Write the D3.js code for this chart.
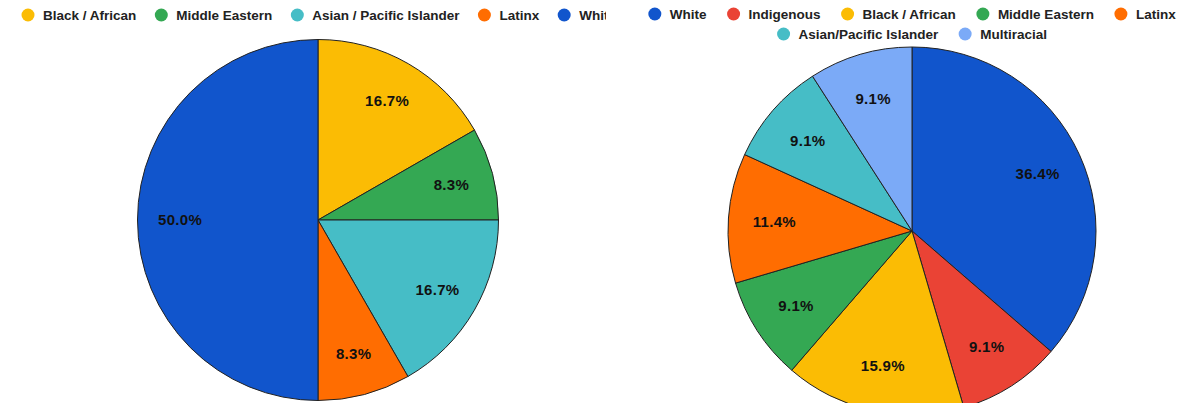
<!DOCTYPE html>
<html>
<head>
<meta charset="utf-8">
<script src="https://cdn.jsdelivr.net/npm/d3@7"></script>
<style>
  html, body { margin: 0; padding: 0; background: #fff; }
  svg { display: block; font-family: "Liberation Sans", Arial, sans-serif; }
</style>
</head>
<body>
<svg id="chart" width="1191" height="403"></svg>
<script>
// Left chart data
const leftCategories = ["Black / African", "Middle Eastern", "Asian / Pacific Islander", "Latinx", "White"];
const leftValues = [16.7, 8.3, 16.7, 8.3, 50.0];
const leftColors = ["#fbbc04", "#34a853", "#46bdc6", "#ff6d01", "#1155cc"];

// Right chart data
const rightCategories = ["White", "Indigenous", "Black / African", "Middle Eastern", "Latinx", "Asian/Pacific Islander", "Multiracial"];
const rightValues = [36.4, 9.1, 15.9, 9.1, 11.4, 9.1, 9.1];
const rightColors = ["#1155cc", "#ea4335", "#fbbc04", "#34a853", "#ff6d01", "#46bdc6", "#7baaf7"];

const svg = d3.select("#chart");

function drawPie(g, values, colors, radius, labelR) {
  const pie = d3.pie().sort(null).value(d => d);
  const arcs = pie(values);
  const arc = d3.arc().innerRadius(0).outerRadius(radius);
  const labelArc = d3.arc().innerRadius(labelR).outerRadius(labelR);
  g.selectAll("path.slice").data(arcs).join("path")
    .attr("class", "slice")
    .attr("d", arc)
    .attr("fill", (d, i) => colors[i])
    .attr("stroke", "#222")
    .attr("stroke-width", 1)
    .attr("stroke-linejoin", "round");
  g.selectAll("text.lbl").data(arcs).join("text")
    .attr("class", "lbl")
    .attr("transform", d => `translate(${labelArc.centroid(d)})`)
    .attr("text-anchor", "middle")
    .attr("dy", "0.36em")
    .attr("font-size", 15)
    .attr("font-weight", "bold")
    .attr("fill", "#111")
    .attr("letter-spacing", 0.3)
    .text(d => d.data.toFixed(1) + "%");
}

function legendRow(g, cats, colors, startX, y, gap) {
  let x = startX;
  cats.forEach((c, i) => {
    const t = g.append("text")
      .attr("x", x + 15)
      .attr("y", y)
      .attr("dy", "0.35em")
      .attr("font-size", 13.5)
      .attr("font-weight", "bold")
      .attr("fill", "#222")
      .text(c);
    const w = t.node().getComputedTextLength();
    g.append("circle").attr("cx", x).attr("cy", y).attr("r", 6.5).attr("fill", colors[i]);
    x = x + 15 + w + gap;
  });
  return x - gap - startX;
}

// Left chart
svg.append("clipPath").attr("id", "leftClip").append("rect")
  .attr("x", 0).attr("y", 0).attr("width", 606).attr("height", 403);
const leftG = svg.append("g").attr("clip-path", "url(#leftClip)");
legendRow(leftG.append("g"), leftCategories, leftColors, 28, 15, 25);
drawPie(leftG.append("g").attr("transform", "translate(318,220)"), leftValues, leftColors, 180.5, 138);

// Right chart legend (two centered rows)
const rightG = svg.append("g");
const row1 = rightCategories.slice(0, 5), row2 = rightCategories.slice(5);
const c1 = rightColors.slice(0, 5), c2 = rightColors.slice(5);
const r1g = rightG.append("g");
const w1 = legendRow(r1g, row1, c1, 0, 14, 27);
r1g.attr("transform", `translate(${912 - (w1 + 6.5) / 2 + 6.5},0)`);
const r2g = rightG.append("g");
const w2 = legendRow(r2g, row2, c2, 0, 34, 27);
r2g.attr("transform", `translate(${912 - (w2 + 6.5) / 2 + 6.5},0)`);
drawPie(rightG.append("g").attr("transform", "translate(912,231)"), rightValues, rightColors, 184, 138);
</script>
</body>
</html>
